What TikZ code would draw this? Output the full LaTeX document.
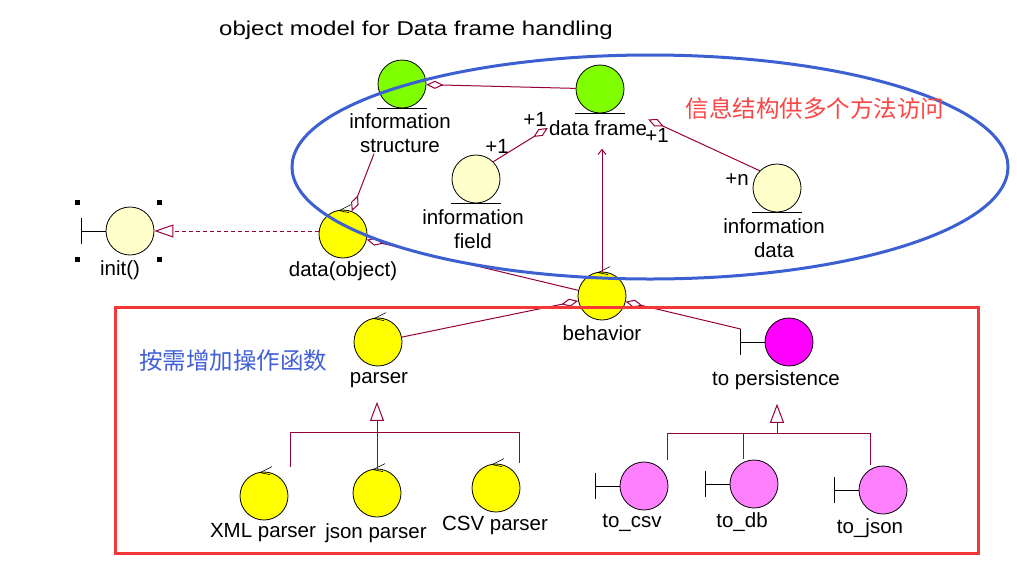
\documentclass[tikz,border=0pt]{standalone}
\usepackage{fontspec}
\setmainfont{Liberation Sans}
\newfontfamily\titlefont{Liberation Sans}[FakeStretch=1.2]
\newfontfamily\cjk{Noto Sans CJK SC}
\usetikzlibrary{arrows.meta}

\definecolor{linkred}{RGB}{150,0,60}
\definecolor{noteblue}{RGB}{65,95,215}
\definecolor{notered}{RGB}{250,70,70}
\definecolor{boxred}{RGB}{245,55,55}
\definecolor{ellblue}{RGB}{60,95,210}
\definecolor{entgreen}{RGB}{128,255,0}
\definecolor{paleyel}{RGB}{255,255,204}
\definecolor{ctlyel}{RGB}{255,255,0}
\definecolor{bndmag}{RGB}{255,0,255}
\definecolor{bndpink}{RGB}{255,128,255}

\begin{document}
\begin{tikzpicture}[x=1pt, y=-1pt,
	every node/.style={font=\fontsize{20.5}{24}\selectfont},
	cls/.style={circle, draw=black, line width=0.8pt, minimum size=48pt, inner sep=0pt},
	lbl/.style={align=center, inner sep=1pt},
	link/.style={draw=linkred, line width=1pt},
	agg/.style={link, {Diamond[open, length=17pt, width=8pt]}-},
	gen/.style={link, -{Triangle[open, length=19pt, width=14pt]}},
	note/.style={font=\cjk\fontsize{23.5}{28}\selectfont}]
	\useasboundingbox (0,0) rectangle (1017,563);
	\node[font=\titlefont\fontsize{20}{24}\selectfont] (title) at (416,30) {object model for Data frame handling};
	% entity classes
	\node[cls, fill=entgreen] (istruct) at (402,84) {};
	\node[lbl] (istructL) at (400,133) {information\\structure};
	\node[cls, fill=entgreen] (dframe) at (600,89) {};
	\node[lbl] (dframeL) at (598,128) {data frame};
	\node[cls, fill=paleyel] (ifield) at (476,179) {};
	\node[lbl] (ifieldL) at (473,229) {information\\field};
	\node[cls, fill=paleyel] (idata) at (777,188) {};
	\node[lbl] (idataL) at (774,238) {information\\data};
	% control classes
	\node[cls, fill=ctlyel] (dataobj) at (343,234) {};
	\node[lbl] (dataobjL) at (343,271) {data(object)};
	\node[cls, fill=ctlyel] (behavior) at (602,296) {};
	\node[lbl] (behaviorL) at (602,333) {behavior};
	\node[cls, fill=ctlyel] (parser) at (378,342) {};
	\node[lbl] (parserL) at (379,380) {parser};
	\node[cls, fill=ctlyel] (xmlp) at (264,496) {};
	\node[lbl] (xmlpL) at (263,533) {XML parser};
	\node[cls, fill=ctlyel] (jsonp) at (377,493) {};
	\node[lbl] (jsonpL) at (376,533) {json parser};
	\node[cls, fill=ctlyel] (csvp) at (496,488) {};
	\node[lbl] (csvpL) at (495,525) {CSV parser};
	% boundary classes
	\node[cls, fill=paleyel] (init) at (130,231) {};
	\node[lbl] (initL) at (120,270) {init()};
	\node[cls, fill=bndmag] (topersist) at (789,342) {};
	\node[lbl] (topersistL) at (776,380) {to persistence};
	\node[cls, fill=bndpink] (tocsv) at (644,486) {};
	\node[lbl] (tocsvL) at (632,523) {to\_csv};
	\node[cls, fill=bndpink] (todb) at (754,484) {};
	\node[lbl] (todbL) at (742,522) {to\_db};
	\node[cls, fill=bndpink] (tojson) at (883,490) {};
	\node[lbl] (tojsonL) at (870,528) {to\_json};
	% class markers
	\foreach \n in {istruct, dframe, ifield, idata}
		\draw[line width=0.8pt] (\n.south) +(-25,0) -- +(25,0);
	\foreach \n in {dataobj, behavior, parser, xmlp, jsonp, csvp}
		\draw[line width=0.6pt] (\n.north) +(-4,1) -- +(8,-5) +(-4,1) -- +(6,3);
	\foreach \n in {init, topersist, tocsv, todb, tojson}
		\draw[line width=0.8pt] (\n.west) -- ++(-24,0) coordinate (\n-bar) +(0,-13) coordinate (\n-top) -- +(0,13);
	\foreach \dx/\dy in {-53/-29, 29/-29, -53/28, 29/28}
		\fill (init) ++(\dx,\dy) +(-2.5,-2.5) rectangle +(2.5,2.5);
	% multiplicities
	\node (mulA) at (535,119) {+1};
	\node (mulB) at (497,146) {+1};
	\node (mulC) at (657,135) {+1};
	\node (mulD) at (737,180) {+n};
	% relations
	\draw[agg] (istruct) -- (dframe);
	\draw[agg] (dframeL.west) -- (ifield.north east);
	\draw[agg] (dframeL.north east) -- (idata.north west);
	\draw[agg] (dataobj) -- ([xshift=-26pt]istructL.south);
	\draw[link, dash pattern=on 4pt off 3pt, -{Triangle[open, length=19pt, width=13pt]}] (init -| dataobj.west) -- (init);
	\draw[agg] (dataobj) -- (behavior);
	\draw[link, -{Straight Barb[length=5pt, width=8pt]}, shorten >=12pt] (behavior) -- (behavior |- dframeL.south);
	\draw[agg] (behavior) -- (parser);
	\draw[agg] (behavior) -- (topersist-top);
	% generalization
	\coordinate (pj) at (377,432);
	\draw[gen, shorten >=13pt] (pj) -- (pj |- parserL.south);
	\draw[link] (xmlp.north) ++(26,-5) |- (pj);
	\draw[link] (jsonp.north) -- (pj);
	\draw[link] (csvp.north) ++(23,-1) |- (pj);
	\coordinate (tj) at (777,433);
	\draw[gen, shorten >=13pt] (tj) -- (tj |- topersistL.south);
	\draw[link] (tocsv.north) ++(23,-2) |- (tj);
	\draw[link] (todb.north) ++(-11,-1) |- (tj);
	\draw[link] (tojson.north) ++(-13,-1) |- (tj);
	% groups
	\draw[ellblue, line width=3pt] (650,167) ellipse [x radius=358, y radius=112];
	\draw[boxred, line width=3pt] (115,307) rectangle (978,553);
	\node[note, text=notered] (noteA) at (815,108) {信息结构供多个方法访问};
	\node[note, text=noteblue] (noteB) at (233,361) {按需增加操作函数};
\end{tikzpicture}
\end{document}
